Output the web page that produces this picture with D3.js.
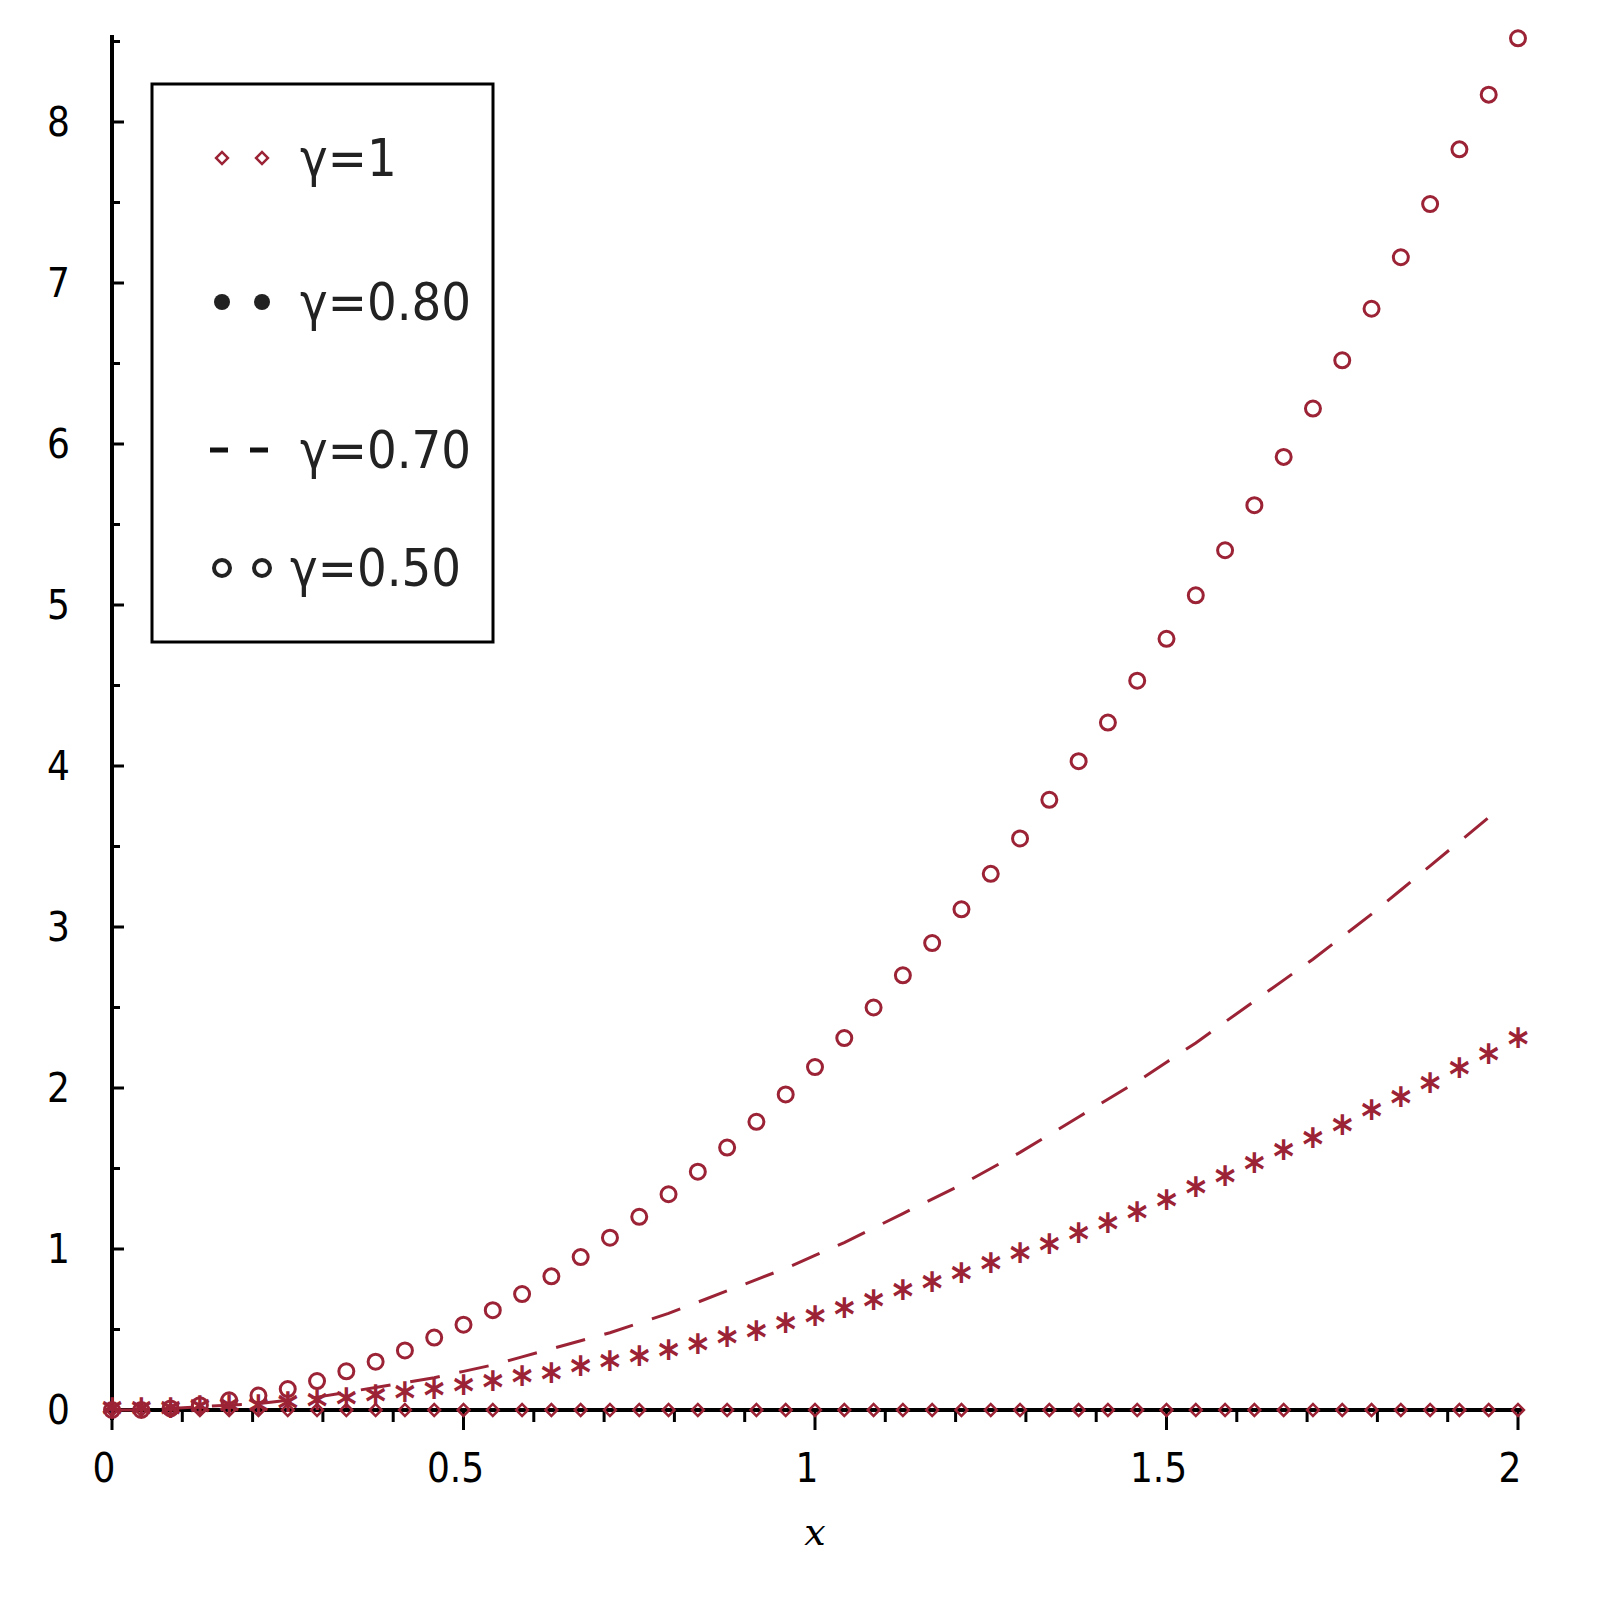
<!DOCTYPE html>
<html><head><meta charset="utf-8">
<script src="https://cdn.jsdelivr.net/npm/d3@7"></script>
<style>body{margin:0;background:#fff}</style>
</head><body>
<svg id="c" width="1602" height="1606"></svg>
<script>
// x positions: 0 .. 2 in steps of 1/24
var xs = d3.range(0, 49).map(function (k) { return k / 24; });

var g100 = xs.map(function () { return 0; });
var g080 = [0,0,0,0.01,0.02,0.02,0.04,0.05,0.06,0.08,0.10,0.12,0.14,0.17,0.20,0.22,0.26,0.29,0.32,0.36,0.40,0.44,0.48,0.53,0.57,0.62,0.67,0.73,0.78,0.84,0.90,0.96,1.02,1.09,1.15,1.22,1.29,1.37,1.44,1.52,1.60,1.68,1.76,1.85,1.93,2.02,2.11,2.20,2.30];
var g070 = [0,0,0.01,0.02,0.03,0.04,0.06,0.08,0.11,0.14,0.17,0.20,0.24,0.28,0.33,0.38,0.43,0.48,0.54,0.60,0.67,0.74,0.81,0.88,0.96,1.04,1.13,1.22,1.31,1.40,1.50,1.60,1.71,1.82,1.93,2.04,2.16,2.28,2.41,2.54,2.67,2.80,2.94,3.08,3.23,3.38,3.53,3.68,3.84];
var g050 = [0,0,0.01,0.03,0.06,0.09,0.13,0.18,0.24,0.30,0.37,0.45,0.53,0.62,0.72,0.83,0.95,1.07,1.20,1.34,1.48,1.63,1.79,1.96,2.13,2.31,2.50,2.70,2.90,3.11,3.33,3.55,3.79,4.03,4.27,4.53,4.79,5.06,5.34,5.62,5.92,6.22,6.52,6.84,7.16,7.49,7.83,8.17,8.52];

var xTicks = [0, 0.5, 1, 1.5, 2];
var xTickLabels = ["0", "0.5", "1", "1.5", "2"];
var yTicks = [0, 1, 2, 3, 4, 5, 6, 7, 8];
var legendLabels = ["γ=1", "γ=0.80", "γ=0.70", "γ=0.50"];

var col = "#9b2335";
var font = "'DejaVu Sans Condensed','DejaVu Sans',sans-serif";

var svg = d3.select("#c");
var x = d3.scaleLinear().domain([0, 2]).range([112, 1518]);
var y = d3.scaleLinear().domain([0, 8]).range([1410, 122]);

// y axis
svg.append("line").attr("x1", 112).attr("x2", 112).attr("y1", 35).attr("y2", 1420)
   .attr("stroke", "#000").attr("stroke-width", 4);
d3.range(0, 8.6, 0.5).forEach(function (v) {
    var major = v % 1 === 0;
    svg.append("line").attr("x1", 112).attr("x2", major ? 124 : 120)
       .attr("y1", y(v)).attr("y2", y(v)).attr("stroke", "#000").attr("stroke-width", 3);
});
svg.selectAll("text.yl").data(yTicks).join("text").attr("class", "yl")
   .attr("x", 70).attr("y", function (d) { return y(d) + 14; })
   .attr("text-anchor", "end").attr("font-family", font).attr("font-size", 40)
   .text(function (d) { return d; });

// x axis
svg.append("line").attr("x1", 104).attr("x2", 1522).attr("y1", y(0)).attr("y2", y(0))
   .attr("stroke", "#000").attr("stroke-width", 4);
d3.range(0, 2.01, 0.1).forEach(function (v) {
    var major = Math.abs(v * 2 - Math.round(v * 2)) < 1e-6;
    svg.append("line").attr("x1", x(v)).attr("x2", x(v))
       .attr("y1", y(0)).attr("y2", y(0) + (major ? 20 : 12))
       .attr("stroke", "#000").attr("stroke-width", 3);
});
svg.selectAll("text.xl").data(xTicks).join("text").attr("class", "xl")
   .attr("x", function (d) { return x(d) - 8; }).attr("y", 1482)
   .attr("text-anchor", "middle").attr("font-family", font).attr("font-size", 40)
   .text(function (d, i) { return xTickLabels[i]; });
svg.append("text").attr("x", x(1)).attr("y", 1545).attr("text-anchor", "middle")
   .attr("font-family", "'DejaVu Serif',serif").attr("font-style", "italic")
   .attr("font-size", 38).text("x");

// dashed line gamma=0.70
var pts70 = xs.map(function (d, i) { return [d, g070[i]]; }).filter(function (p) { return p[0] <= 1.98; });
svg.append("path").datum(pts70)
   .attr("d", d3.line().x(function (p) { return x(p[0]); }).y(function (p) { return y(p[1]); }))
   .attr("fill", "none").attr("stroke", col).attr("stroke-width", 3)
   .attr("stroke-dasharray", "30,20");

// diamonds gamma=1 (rotated squares)
var diamond = d3.symbol().type(d3.symbolSquare).size(70);
svg.selectAll("path.d1").data(xs).join("path").attr("class", "d1")
   .attr("d", diamond)
   .attr("transform", function (d, i) { return "translate(" + x(d) + "," + y(g100[i]) + ") rotate(45)"; })
   .attr("fill", "none").attr("stroke", col).attr("stroke-width", 2.5);

// stars gamma=0.80
svg.selectAll("text.st").data(xs).join("text").attr("class", "st")
   .attr("x", function (d) { return x(d); }).attr("y", function (d, i) { return y(g080[i]) + 20; })
   .attr("text-anchor", "middle").attr("font-family", font).attr("font-size", 44)
   .attr("font-weight", "bold").attr("fill", col).text("*");

// circles gamma=0.50
svg.selectAll("circle.c5").data(xs).join("circle").attr("class", "c5")
   .attr("cx", function (d) { return x(d); }).attr("cy", function (d, i) { return y(g050[i]); })
   .attr("r", 7.5).attr("fill", "none").attr("stroke", col).attr("stroke-width", 3);

// legend
svg.append("rect").attr("x", 152).attr("y", 84).attr("width", 341).attr("height", 558)
   .attr("fill", "#fff").attr("stroke", "#000").attr("stroke-width", 3);
var ly = [158, 302, 450, 568];
var lx = [300, 300, 300, 290];
legendLabels.forEach(function (t, i) {
    svg.append("text").attr("x", lx[i]).attr("y", ly[i] + 18)
       .attr("font-family", font).attr("font-size", 52).attr("fill", "#222").text(t);
    [222, 262].forEach(function (px) {
        if (i === 0) {
            svg.append("path").attr("d", diamond)
               .attr("transform", "translate(" + px + "," + ly[i] + ") rotate(45)")
               .attr("fill", "none").attr("stroke", col).attr("stroke-width", 2.5);
        } else if (i === 1) {
            svg.append("circle").attr("cx", px).attr("cy", ly[i]).attr("r", 8).attr("fill", "#222");
        } else if (i === 2) {
            svg.append("line").attr("x1", px - 12).attr("x2", px + 6).attr("y1", ly[i]).attr("y2", ly[i])
               .attr("stroke", "#111").attr("stroke-width", 5);
        } else {
            svg.append("circle").attr("cx", px).attr("cy", ly[i]).attr("r", 8)
               .attr("fill", "none").attr("stroke", "#222").attr("stroke-width", 4);
        }
    });
});
</script>
</body></html>
